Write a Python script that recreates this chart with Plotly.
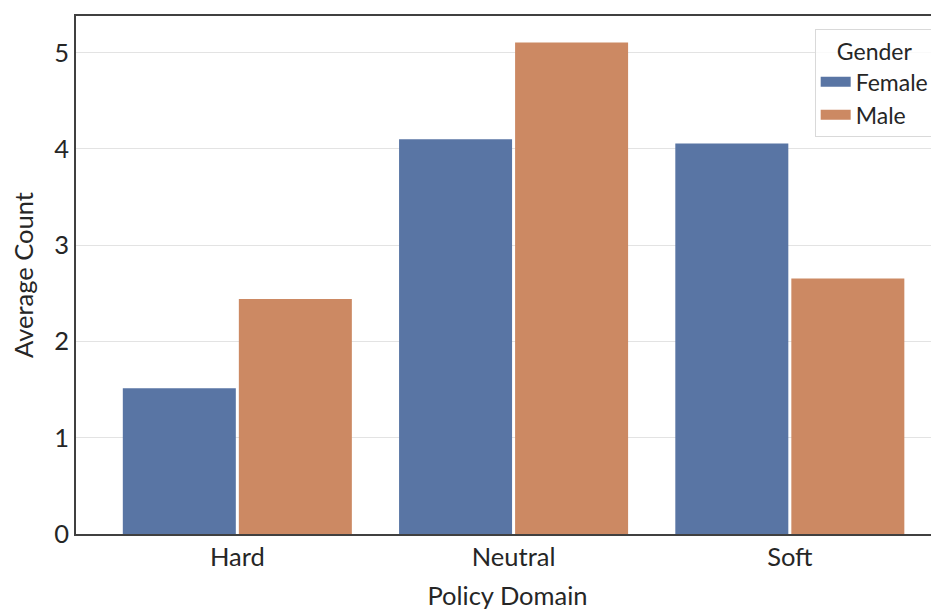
import plotly.graph_objects as go

categories = ["Hard", "Neutral", "Soft"]
female = [1.515, 4.10, 4.055]
male = [2.44, 5.105, 2.653]
y_ticks = [0, 1, 2, 3, 4, 5]
series_names = ["Female", "Male"]
series_colors = ["#5975a4", "#cc8963"]

FONT = "Lato, 'Open Sans', sans-serif"
TXT = "#262626"
AX = 25.5
LEG = 23

fig = go.Figure()
for name, vals, col in zip(series_names, [female, male], series_colors):
    fig.add_trace(go.Bar(x=categories, y=vals, name=name, marker_color=col,
                         marker_line_width=0, showlegend=False, legendgroup=name))
# legend-only entries drawn as wide patches
for name, col in zip(series_names, series_colors):
    fig.add_trace(go.Scatter(x=[None], y=[None], mode="lines", name=name,
                             line=dict(color=col, width=10), legendgroup=name))

fig.update_layout(
    width=931, height=602,
    margin=dict(l=68, r=0, t=8, b=73.5, pad=0),
    paper_bgcolor="white", plot_bgcolor="white",
    barmode="group", bargap=0.16, bargroupgap=0.026,
    font=dict(family=FONT, size=AX, color=TXT),
    legend=dict(
        title=dict(text="Gender", side="top center", font=dict(size=LEG, color=TXT)),
        x=0.995, y=0.974, xanchor="right", yanchor="top",
        bgcolor="rgba(255,255,255,0.8)", bordercolor="#d9d9d9", borderwidth=1,
        font=dict(size=LEG, color=TXT), itemwidth=30, tracegroupgap=0,
    ),
    showlegend=True,
)
fig.update_xaxes(
    range=[-0.584, 2.54], showgrid=False, showline=True, mirror=True,
    linecolor="#404040", linewidth=1.5, ticks="", tickfont=dict(size=AX, color=TXT),
    title=dict(text="Policy Domain", font=dict(size=AX, color=TXT), standoff=21),
)
fig.update_yaxes(
    range=[0, 5.38], tickvals=y_ticks, showgrid=True, gridcolor="#e3e3e3", gridwidth=1.2,
    showline=True, linecolor="#404040", linewidth=1.5, ticks="", zeroline=False,
    tickfont=dict(size=AX, color=TXT),
    title=dict(text="Average Count", font=dict(size=AX, color=TXT), standoff=13),
)

fig.write_html("out.html")
